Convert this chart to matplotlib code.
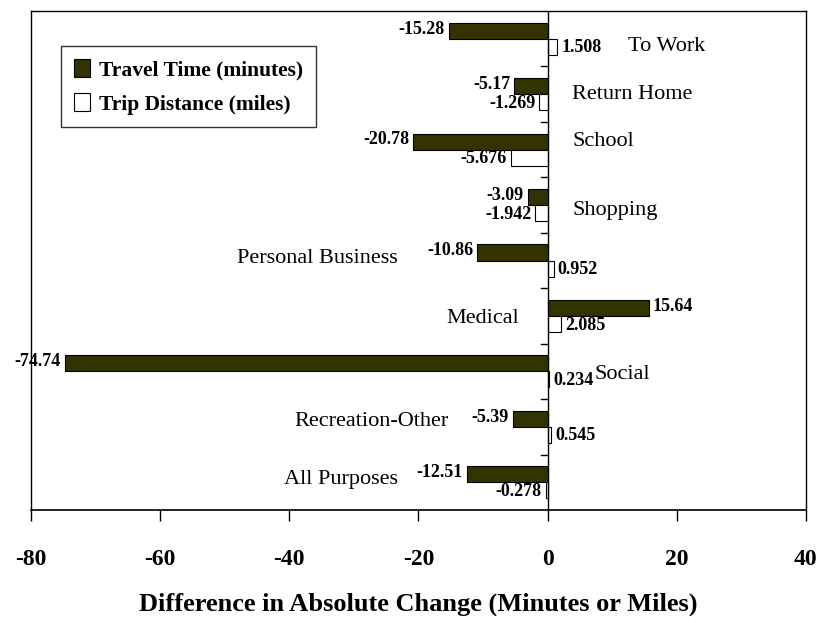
import matplotlib
matplotlib.use('Agg')
import matplotlib.pyplot as plt

purposes = ['To Work', 'Return Home', 'School', 'Shopping', 'Personal Business',
            'Medical', 'Social', 'Recreation-Other', 'All Purposes']
travel_time = [-15.28, -5.17, -20.78, -3.09, -10.86, 15.64, -74.74, -5.39, -12.51]
trip_dist = [1.508, -1.269, -5.676, -1.942, 0.952, 2.085, 0.234, 0.545, -0.278]
time_lbl = ['-15.28', '-5.17', '-20.78', '-3.09', '-10.86', '15.64', '-74.74', '-5.39', '-12.51']
dist_lbl = ['1.508', '-1.269', '-5.676', '-1.942', '0.952', '2.085', '0.234', '0.545', '-0.278']

# where the category names sit (x in data units, y offset from group centre, alignment)
name_pos = [(12.4, 0.14, 'left'), (3.8, 0.0, 'left'), (3.8, -0.14, 'left'),
            (3.8, 0.10, 'left'), (-23.2, -0.03, 'right'), (-4.4, 0.04, 'right'),
            (7.2, 0.06, 'left'), (-15.3, -0.09, 'right'), (-23.2, -0.05, 'right')]

olive = '#333300'
serif = ['Liberation Serif', 'DejaVu Serif']
plt.rcParams['font.family'] = serif
plt.rcParams['axes.unicode_minus'] = False

fig = plt.figure(figsize=(8.2, 6.23), dpi=100)
ax = fig.add_axes([0.0378, 0.1814, 0.945, 0.8009])

n = len(purposes)
y = list(range(n))
h = 0.29
ax.barh([i - h / 2 for i in y], travel_time, height=h, color=olive,
        edgecolor='black', linewidth=0.8, label='Travel Time (minutes)')
ax.barh([i + h / 2 for i in y], trip_dist, height=h, color='white',
        edgecolor='black', linewidth=0.8, label='Trip Distance (miles)')

ax.set_xlim(-80, 40)
ax.set_ylim(n - 0.5, -0.5)

# value labels
for i in y:
    v = travel_time[i]
    ax.text(v + (0.6 if v > 0 else -0.6), i - h / 2 - 0.03, time_lbl[i],
            ha='left' if v > 0 else 'right', va='center',
            fontsize=13, fontweight='bold')
    d = trip_dist[i]
    ax.text(d + (0.6 if d > 0 else -0.6), i + h / 2 + 0.02, dist_lbl[i],
            ha='left' if d > 0 else 'right', va='center',
            fontsize=13, fontweight='bold')

for i, (px, dy, al) in enumerate(name_pos):
    ax.text(px, i + dy, purposes[i], ha=al, va='center', fontsize=16)

# zero line with small ticks between groups
ax.axvline(0, color='black', linewidth=1)
for b in range(1, n):
    ax.plot([-1.0, 0], [b - 0.5, b - 0.5], color='black', linewidth=1)

for s in ['left', 'right', 'top']:
    ax.spines[s].set_linewidth(1)
ax.spines['bottom'].set_linewidth(1.2)
ax.set_yticks([])
ax.set_xticks(range(-80, 41, 20))
ax.tick_params(axis='x', direction='out', length=8, width=1, pad=20)
for t in ax.get_xticklabels():
    t.set_fontsize(17)
    t.set_fontweight('bold')

ax.set_xlabel('Difference in Absolute Change (Minutes or Miles)',
              fontsize=19, fontweight='bold', labelpad=16)

leg = ax.legend(loc='upper left', bbox_to_anchor=(0.0387, 0.93), borderaxespad=0,
                frameon=True, fancybox=False, edgecolor='black', handlelength=0.75,
                handleheight=0.9, handletextpad=0.4, borderpad=0.6,
                labelspacing=0.6, prop={'family': serif, 'weight': 'bold', 'size': 15.5})
leg.get_frame().set_linewidth(1)

fig.savefig('out.png', dpi=100)
